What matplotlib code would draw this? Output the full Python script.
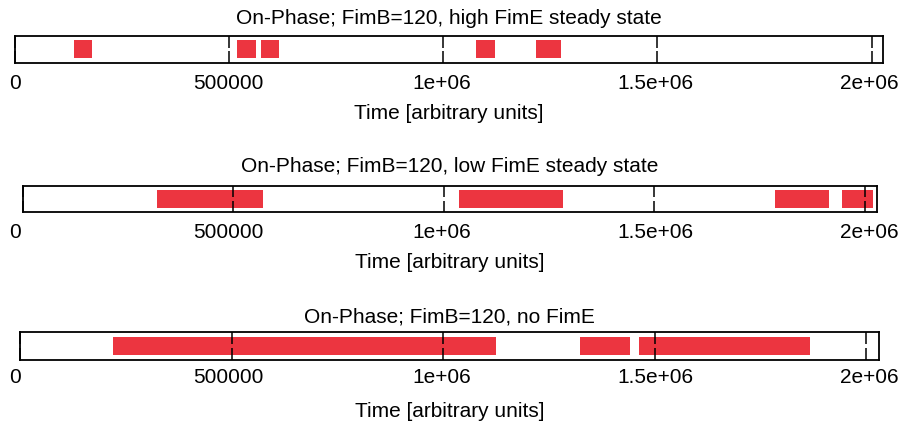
import matplotlib
matplotlib.use("Agg")
import matplotlib.pyplot as plt

plt.rcParams['font.family'] = ['Liberation Sans', 'DejaVu Sans']

titles = [
    "On-Phase; FimB=120, high FimE steady state",
    "On-Phase; FimB=120, low FimE steady state",
    "On-Phase; FimB=120, no FimE",
]
xlabel = "Time [arbitrary units]"
tick_values = [0, 500000, 1000000, 1500000, 2000000]
tick_labels = ["0", "500000", "1e+06", "1.5e+06", "2e+06"]

# On-phase intervals (start, end) per panel
on_high = [(138000, 181000), (519000, 562000), (575000, 616000),
           (1076000, 1120000), (1216000, 1275000)]
on_low = [(319000, 570000), (1036000, 1284000), (1787000, 1915000),
          (1945000, 2019000)]
on_none = [(220000, 1125000), (1323000, 1442000), (1464000, 1866000)]
series = [on_high, on_low, on_none]
x_max = [2027000, 2029000, 2030000]

W, H = 901, 421
fig = plt.figure(figsize=(W / 100, H / 100), dpi=100)

# box pixel geometry: left, right, top, bottom
boxes = [(14.7, 883.3, 36.0, 63.3),
         (22.7, 877.0, 185.7, 212.3),
         (20.0, 879.0, 332.3, 360.3)]
title_gap = [12, 13.4, 10]
tick_pad = [8.0, 7.5, 5.5]
xlabel_off = [56, 56, 56.4]
red = '#EC3540'
fs = 15

for i in range(3):
    l, r, t, b = boxes[i]
    ax = fig.add_axes([l / W, 1 - b / H, (r - l) / W, (b - t) / H])
    ax.set_xlim(0, x_max[i])
    ax.set_ylim(0, 1)
    ax.broken_barh([(s, e - s) for s, e in series[i]], (0.18, 0.66),
                   facecolors=red, edgecolor='none', zorder=1)
    ax.set_xticks(tick_values)
    ax.set_xticklabels([])
    ax.set_yticks([])
    hpx = b - t
    ax.tick_params(axis='x', direction='in', top=True, bottom=True,
                   length=(hpx / 2 - 2) * 0.72, width=1.1, color='black')
    for sp in ax.spines.values():
        sp.set_linewidth(1.3)
    ax.annotate(titles[i], xy=(0.5, 1), xycoords='axes fraction',
                xytext=(0, title_gap[i] * 0.72), textcoords='offset points',
                ha='center', va='baseline', fontsize=fs)
    ax.annotate(xlabel, xy=(0.5, 0), xycoords='axes fraction',
                xytext=(0, -xlabel_off[i] * 0.72), textcoords='offset points',
                ha='center', va='baseline', fontsize=fs)

    # tick label axis (labels are set on a common positional scale)
    lab = fig.add_axes([15 / W, 1 - b / H, 854 / W, 0.001])
    lab.set_xlim(tick_values[0], tick_values[-1])
    lab.set_xticks(tick_values)
    lab.set_xticklabels(tick_labels, fontsize=fs)
    lab.set_yticks([])
    lab.tick_params(axis='x', length=0, pad=tick_pad[i])
    lab.patch.set_visible(False)
    for sp in lab.spines.values():
        sp.set_visible(False)

fig.savefig("out.png", dpi=100)
